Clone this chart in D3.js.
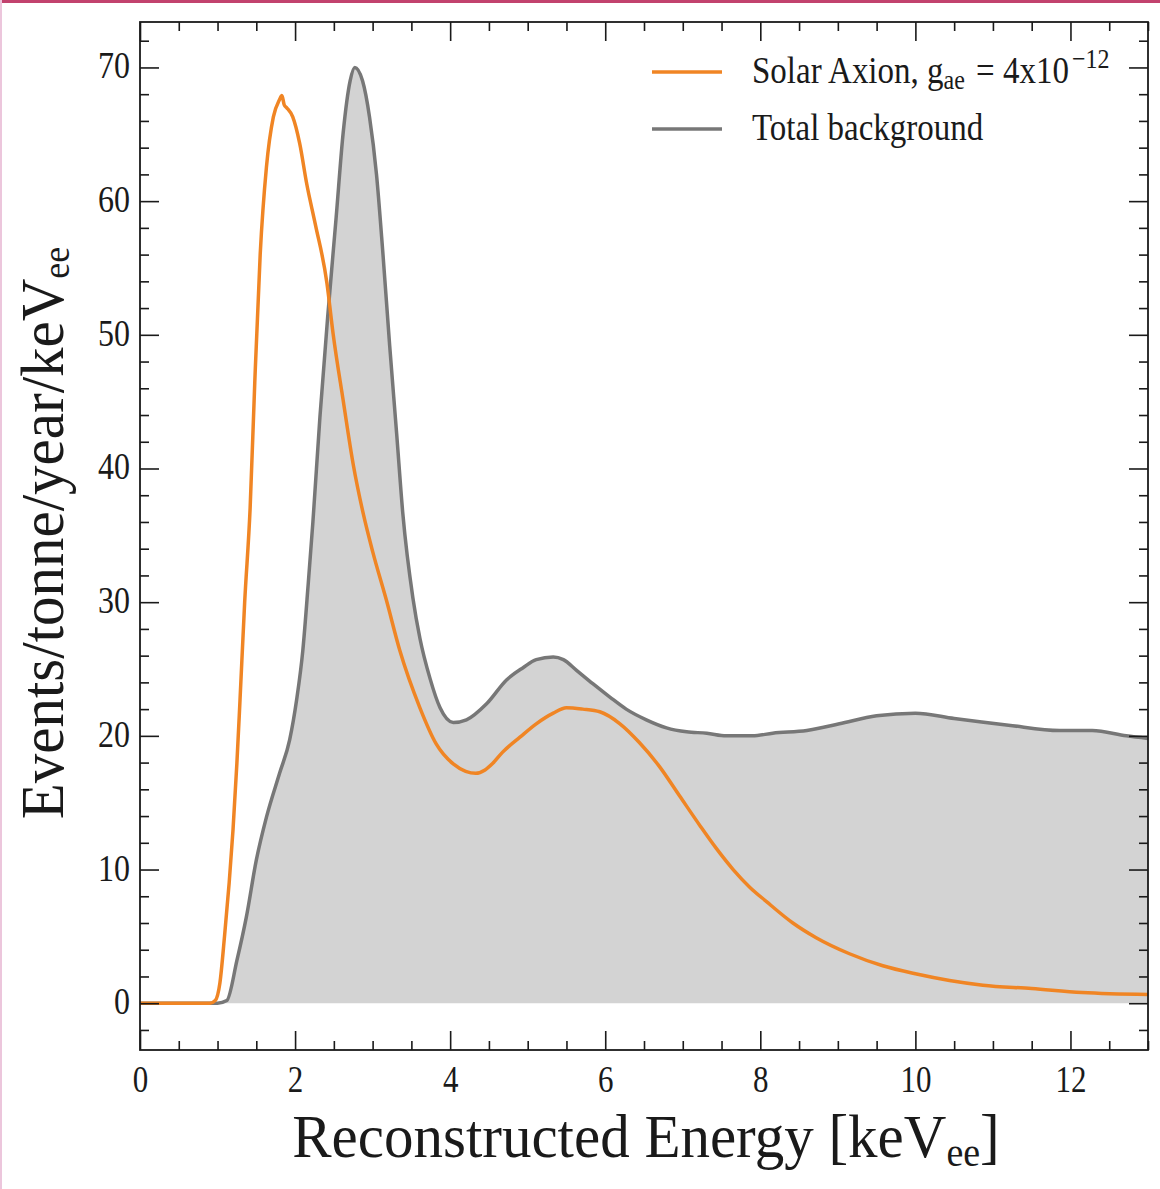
<!DOCTYPE html>
<html>
<head>
<meta charset="utf-8">
<script src="https://cdn.jsdelivr.net/npm/d3@7"></script>
<style>
  html, body { margin: 0; padding: 0; background: #fff; }
  svg { display: block; }
  text { font-family: "Liberation Serif", "Times New Roman", serif; fill: #1a1a1a; }
</style>
</head>
<body>
<svg id="chart" width="1160" height="1189"></svg>
<script>
// ---- data ----
const axionEnergy = [0, 0.9, 0.97, 1.03, 1.09, 1.15, 1.2, 1.25, 1.29, 1.35, 1.42, 1.48, 1.55, 1.63, 1.72, 1.8, 1.83, 1.86, 1.89, 1.97, 2.06, 2.15, 2.26, 2.41, 2.49, 2.62, 2.75, 2.88, 3.0, 3.18, 3.35, 3.61, 3.82, 4.04, 4.2, 4.33, 4.45, 4.55, 4.68, 4.9, 5.11, 5.33, 5.5, 5.71, 5.93, 6.19, 6.44, 6.7, 6.96, 7.22, 7.43, 7.65, 7.86, 8.08, 8.42, 8.72, 9.15, 9.58, 10.0, 10.44, 10.87, 11.5, 12.15, 13.0];
const axionRate   = [0, 0, 0.2, 1.5, 5, 9, 13, 18, 22.7, 30, 37, 46.4, 56, 62.5, 66.3, 67.6, 67.9, 67.2, 67.0, 66.3, 64.3, 61.3, 58.3, 53.9, 50.1, 45.1, 40.3, 36.6, 33.8, 30.1, 26.4, 22.1, 19.4, 17.9, 17.35, 17.2, 17.45, 17.95, 18.8, 19.9, 20.9, 21.7, 22.1, 22.0, 21.8, 20.9, 19.5, 17.7, 15.5, 13.3, 11.6, 10.0, 8.7, 7.6, 6.0, 4.9, 3.7, 2.8, 2.2, 1.7, 1.35, 1.1, 0.8, 0.65];

const bkgEnergy = [0, 1.0, 1.12, 1.25, 1.37, 1.5, 1.63, 1.8, 1.93, 2.02, 2.1, 2.17, 2.23, 2.32, 2.42, 2.53, 2.62, 2.71, 2.77, 2.87, 2.96, 3.05, 3.13, 3.22, 3.31, 3.39, 3.52, 3.61, 3.74, 3.87, 4.04, 4.21, 4.47, 4.73, 4.94, 5.11, 5.33, 5.46, 5.63, 5.84, 6.06, 6.27, 6.53, 6.79, 7.05, 7.31, 7.56, 7.9, 8.16, 8.6, 9.02, 9.5, 10.0, 10.5, 11.2, 11.86, 12.28, 12.72, 13.0];
const bkgRate   = [0, 0, 0.2, 3.2, 6.4, 10.7, 13.9, 17.2, 19.7, 22.7, 26.4, 31.4, 36.0, 43.8, 51.3, 58.8, 65.1, 69.0, 70.0, 69.0, 66.3, 62.0, 56.3, 49.2, 42.6, 36.6, 30.3, 27.3, 24.3, 22.1, 21.0, 21.2, 22.4, 24.2, 25.1, 25.7, 25.9, 25.7, 24.9, 23.9, 22.9, 22.0, 21.2, 20.6, 20.3, 20.2, 20.0, 20.0, 20.2, 20.4, 20.9, 21.5, 21.7, 21.3, 20.8, 20.4, 20.4, 20.0, 19.8];

const xMajorTicks = [0, 2, 4, 6, 8, 10, 12];
const yMajorTicks = [0, 10, 20, 30, 40, 50, 60, 70];
const seriesNames = ["Solar Axion", "Total background"];

// ---- layout ----
const svg = d3.select("#chart");
const L = 140, R = 1148, T = 22, B = 1050;
const x = d3.scaleLinear().domain([0, 13]).range([L, R]);
const y = d3.scaleLinear().domain([-3.5, 73.4]).range([B, T]);

const orange = "#f08524";
const grey = "#777777";
const fillGrey = "#d3d3d3";

// page border accents
svg.append("rect").attr("x", 0).attr("y", 0).attr("width", 1160).attr("height", 3).attr("fill", "#c2426e");
svg.append("rect").attr("x", 0).attr("y", 0).attr("width", 2).attr("height", 1189).attr("fill", "#ecc6dc");

svg.append("clipPath").attr("id", "plotclip")
  .append("rect").attr("x", L).attr("y", T).attr("width", R - L).attr("height", B - T);

const bkg = bkgEnergy.map((e, i) => ({ e, v: bkgRate[i] }));
const axn = axionEnergy.map((e, i) => ({ e, v: axionRate[i] }));

const plot = svg.append("g").attr("clip-path", "url(#plotclip)");
const curve = d3.curveMonotoneX;

plot.append("path").datum(bkg)
  .attr("d", d3.area().x(d => x(d.e)).y0(y(0)).y1(d => y(d.v)).curve(curve))
  .attr("fill", fillGrey);

plot.append("path").datum(bkg)
  .attr("d", d3.line().x(d => x(d.e)).y(d => y(d.v)).curve(curve))
  .attr("fill", "none").attr("stroke", grey).attr("stroke-width", 3.5).attr("stroke-linejoin", "round");

plot.append("path").datum(axn)
  .attr("d", d3.line().x(d => x(d.e)).y(d => y(d.v)).curve(curve))
  .attr("fill", "none").attr("stroke", orange).attr("stroke-width", 3.5).attr("stroke-linejoin", "round");

// ---- axes ----
const majorLen = 19, minorLen = 9;
const xMinor = d3.range(0, 13.01, 0.5).filter(v => Math.abs(v % 2) > 1e-9);
const yMinor = d3.range(-2, 73, 2).filter(v => Math.abs(v % 10) > 1e-9);

function styleAxis(g) {
  g.select(".domain").remove();
  g.selectAll(".tick line").attr("stroke", "#1a1a1a").attr("stroke-width", 1.6);
}

// bottom
const gb = svg.append("g").attr("transform", `translate(0,${B})`)
  .call(d3.axisBottom(x).tickValues(xMajorTicks).tickSize(-majorLen).tickFormat(d3.format("d")));
styleAxis(gb);
gb.selectAll(".tick text").attr("y", 0).attr("dy", 0)
  .attr("transform", "translate(0,42) scale(1,1.2)")
  .attr("font-size", 31).attr("text-anchor", "middle");
svg.append("g").attr("transform", `translate(0,${B})`)
  .call(d3.axisBottom(x).tickValues(xMinor).tickSize(-minorLen).tickFormat("")).call(styleAxis);
// top
svg.append("g").attr("transform", `translate(0,${T})`)
  .call(d3.axisTop(x).tickValues(xMajorTicks).tickSize(-majorLen).tickFormat("")).call(styleAxis);
svg.append("g").attr("transform", `translate(0,${T})`)
  .call(d3.axisTop(x).tickValues(xMinor).tickSize(-minorLen).tickFormat("")).call(styleAxis);
// left
const gl = svg.append("g").attr("transform", `translate(${L},0)`)
  .call(d3.axisLeft(y).tickValues(yMajorTicks).tickSize(-majorLen).tickFormat(d3.format("d")));
styleAxis(gl);
gl.selectAll(".tick text").attr("x", 0).attr("dy", 0)
  .attr("transform", "translate(-10,10.5) scale(1,1.2)")
  .attr("font-size", 32).attr("text-anchor", "end");
svg.append("g").attr("transform", `translate(${L},0)`)
  .call(d3.axisLeft(y).tickValues(yMinor).tickSize(-minorLen).tickFormat("")).call(styleAxis);
// right
svg.append("g").attr("transform", `translate(${R},0)`)
  .call(d3.axisRight(y).tickValues(yMajorTicks).tickSize(-majorLen).tickFormat("")).call(styleAxis);
svg.append("g").attr("transform", `translate(${R},0)`)
  .call(d3.axisRight(y).tickValues(yMinor).tickSize(-minorLen).tickFormat("")).call(styleAxis);

// frame
svg.append("rect").attr("x", L).attr("y", T).attr("width", R - L).attr("height", B - T)
  .attr("fill", "none").attr("stroke", "#1a1a1a").attr("stroke-width", 1.8);

// ---- axis titles ----
const xt = svg.append("text").attr("transform", "translate(646,1157) scale(1,1.05)")
  .attr("text-anchor", "middle").attr("font-size", 59);
xt.append("tspan").text("Reconstructed Energy [keV");
xt.append("tspan").attr("font-size", 38).attr("dy", 9).text("ee");
xt.append("tspan").attr("dy", -9).text("]");

const yt = svg.append("text").attr("transform", "translate(63,533) rotate(-90) scale(1,1.05)")
  .attr("text-anchor", "middle").attr("font-size", 59);
yt.append("tspan").text("Events/tonne/year/keV");
yt.append("tspan").attr("font-size", 36).attr("dy", 6).text("ee");

// ---- legend ----
const lg = svg.append("g");
lg.append("line").attr("x1", 652).attr("x2", 722).attr("y1", 72).attr("y2", 72)
  .attr("stroke", orange).attr("stroke-width", 3.5);
lg.append("line").attr("x1", 652).attr("x2", 722).attr("y1", 129).attr("y2", 129)
  .attr("stroke", grey).attr("stroke-width", 3.5);
const t1 = lg.append("text").attr("transform", "translate(752,83) scale(1,1.15)").attr("font-size", 33);
t1.append("tspan").text(seriesNames[0] + ", g");
t1.append("tspan").attr("font-size", 24).attr("dy", 5).text("ae");
t1.append("tspan").attr("dy", -5).attr("dx", 3).text(" = 4x10");
t1.append("tspan").attr("font-size", 24).attr("dx", 3).attr("dy", -13).text("\u221212");
const t2 = lg.append("text").attr("transform", "translate(752,140) scale(1,1.15)").attr("font-size", 33);
t2.text(seriesNames[1]);
</script>
</body>
</html>
